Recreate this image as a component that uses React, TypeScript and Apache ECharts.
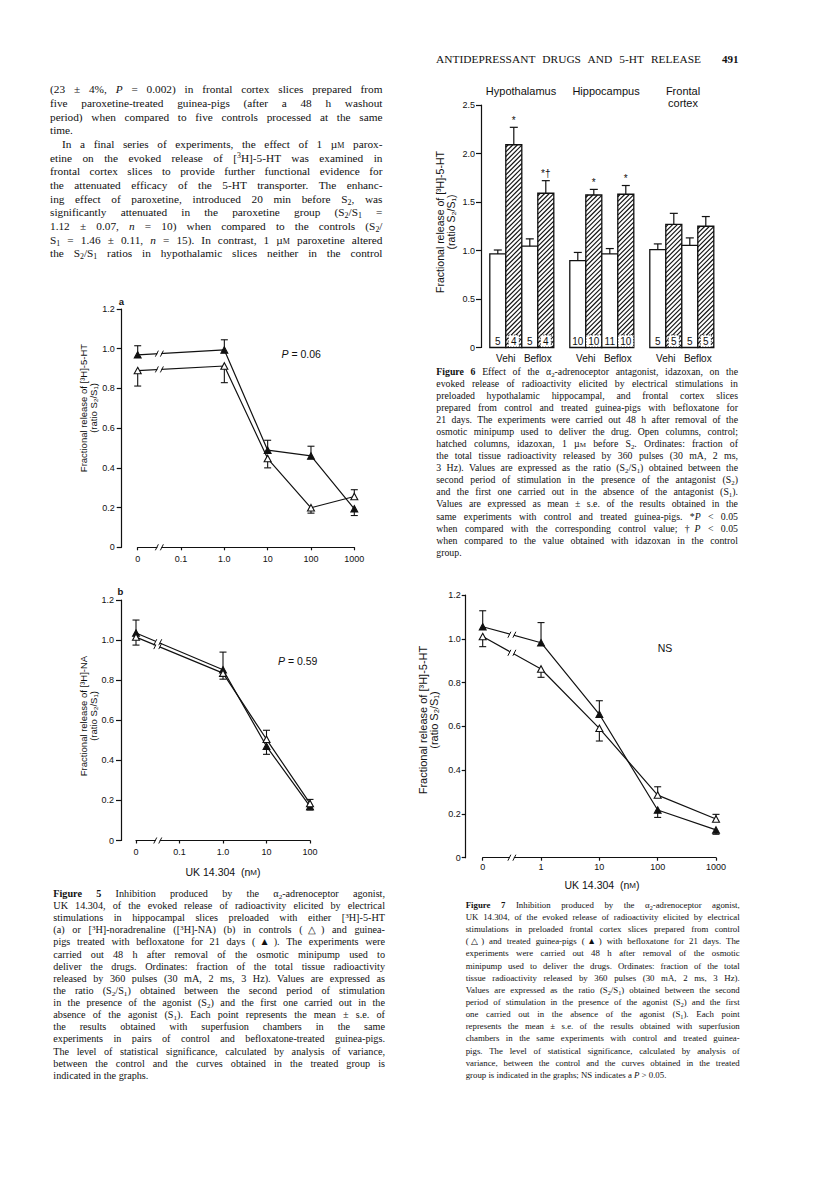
import React, { useEffect, useRef } from "react";
import * as echarts from "echarts";

// ---------------- Figure 6 (bars) ----------------
const fig6Regions = ["Hypothalamus", "Hippocampus", "Frontal\ncortex"];
const fig6Treatments = ["Vehi", "Beflox"];
const fig6Control = [0.965, 1.045, 0.895, 0.965, 1.008, 1.052];
const fig6ControlSE = [0.04, 0.075, 0.085, 0.055, 0.06, 0.078];
const fig6ControlN = [5, 5, 10, 11, 5, 5];
const fig6Idazoxan = [2.09, 1.59, 1.572, 1.58, 1.27, 1.25];
const fig6IdazoxanSE = [0.18, 0.13, 0.058, 0.09, 0.113, 0.1];
const fig6IdazoxanN = [4, 4, 10, 10, 5, 5];
const fig6Marks = ["*", "*†", "*", "*", "", ""];

// ---------------- Figure 5a ----------------
const fig5aConc = [0, 1, 10, 100, 1000];
const fig5aControl = [0.89, 0.913, 0.447, 0.199, 0.256];
const fig5aControlSE = [0.078, 0.084, 0.047, 0.027, 0.034];
const fig5aTreated = [0.969, 0.994, 0.489, 0.46, 0.194];
const fig5aTreatedSE = [0.046, 0.051, 0.05, 0.049, 0.034];

// ---------------- Figure 5b ----------------
const fig5bConc = [0, 1, 10, 100];
const fig5bControl = [1.015, 0.835, 0.505, 0.185];
const fig5bControlSE = [0.04, 0.03, 0.045, 0.02];
const fig5bTreated = [1.035, 0.852, 0.47, 0.17];
const fig5bTreatedSE = [0.065, 0.088, 0.04, 0.018];

// ---------------- Figure 7 ----------------
const fig7Conc = [0, 1, 10, 100, 1000];
const fig7Control = [1.01, 0.862, 0.591, 0.286, 0.177];
const fig7ControlSE = [0.046, 0.038, 0.058, 0.038, 0.021];
const fig7Treated = [1.055, 0.982, 0.655, 0.218, 0.127];
const fig7TreatedSE = [0.073, 0.092, 0.062, 0.034, 0.02];

// tick labels (index = decade exponent - first exponent)
const fig5XLabels = ["0", "0.1", "1.0", "10", "100", "1000"];
const fig7XLabels = ["0", "1", "10", "100", "1000"];

// ---------------- page texts ----------------
const headerText = "ANTIDEPRESSANT DRUGS AND 5-HT RELEASE";
const pageNumber = "491";

const bodyLines = [
  "(23 ± 4%, ~P~ = 0.002) in frontal cortex slices prepared from",
  "five paroxetine-treated guinea-pigs (after a 48 h washout",
  "period) when compared to five controls processed at the same",
  "time.",
  "\tIn a final series of experiments, the effect of 1 µ{m} parox-",
  "etine on the evoked release of [³H]-5-HT was examined in",
  "frontal cortex slices to provide further functional evidence for",
  "the attenuated efficacy of the 5-HT transporter. The enhanc-",
  "ing effect of paroxetine, introduced 20 min before S₂, was",
  "significantly attenuated in the paroxetine group (S₂/S₁ =",
  "1.12 ± 0.07, ~n~ = 10) when compared to the controls (S₂/",
  "S₁ = 1.46 ± 0.11, ~n~ = 15). In contrast, 1 µ{m} paroxetine altered",
  "the S₂/S₁ ratios in hypothalamic slices neither in the control",
];

const fig6Caption = [
  "**Figure 6**  Effect of the α₂-adrenoceptor antagonist, idazoxan, on the",
  "evoked release of radioactivity elicited by electrical stimulations in",
  "preloaded hypothalamic hippocampal, and frontal cortex slices",
  "prepared from control and treated guinea-pigs with befloxatone for",
  "21 days. The experiments were carried out 48 h after removal of the",
  "osmotic minipump used to deliver the drug. Open columns, control;",
  "hatched columns, idazoxan, 1 µ{m} before S₂. Ordinates: fraction of",
  "the total tissue radioactivity released by 360 pulses (30 mA, 2 ms,",
  "3 Hz). Values are expressed as the ratio (S₂/S₁) obtained between the",
  "second period of stimulation in the presence of the antagonist (S₂)",
  "and the first one carried out in the absence of the antagonist (S₁).",
  "Values are expressed as mean ± s.e. of the results obtained in the",
  "same experiments with control and treated guinea-pigs. *~P~ < 0.05",
  "when compared with the corresponding control value; †~P~ < 0.05",
  "when compared to the value obtained with idazoxan in the control",
  "group.",
];

const fig5Caption = [
  "**Figure 5**  Inhibition produced by the α₂-adrenoceptor agonist,",
  "UK 14.304, of the evoked release of radioactivity elicited by electrical",
  "stimulations in hippocampal slices preloaded with either [³H]-5-HT",
  "(a) or [³H]-noradrenaline ([³H]-NA) (b) in controls (△) and guinea-",
  "pigs treated with befloxatone for 21 days (▲). The experiments were",
  "carried out 48 h after removal of the osmotic minipump used to",
  "deliver the drugs. Ordinates: fraction of the total tissue radioactivity",
  "released by 360 pulses (30 mA, 2 ms, 3 Hz). Values are expressed as",
  "the ratio (S₂/S₁) obtained between the second period of stimulation",
  "in the presence of the agonist (S₂) and the first one carried out in the",
  "absence of the agonist (S₁). Each point represents the mean ± s.e. of",
  "the results obtained with superfusion chambers in the same",
  "experiments in pairs of control and befloxatone-treated guinea-pigs.",
  "The level of statistical significance, calculated by analysis of variance,",
  "between the control and the curves obtained in the treated group is",
  "indicated in the graphs.",
];

const fig7Caption = [
  "**Figure 7**  Inhibition produced by the α₂-adrenoceptor agonist,",
  "UK 14.304, of the evoked release of radioactivity elicited by electrical",
  "stimulations in preloaded frontal cortex slices prepared from control",
  "(△) and treated guinea-pigs (▲) with befloxatone for 21 days. The",
  "experiments were carried out 48 h after removal of the osmotic",
  "minipump used to deliver the drugs. Ordinates: fraction of the total",
  "tissue radioactivity released by 360 pulses (30 mA, 2 ms, 3 Hz).",
  "Values are expressed as the ratio (S₂/S₁) obtained between the second",
  "period of stimulation in the presence of the agonist (S₂) and the first",
  "one carried out in the absence of the agonist (S₁). Each point",
  "represents the mean ± s.e. of the results obtained with superfusion",
  "chambers in the same experiments with control and treated guinea-",
  "pigs. The level of statistical significance, calculated by analysis of",
  "variance, between the control and the curves obtained in the treated",
  "group is indicated in the graphs; NS indicates a ~P~ > 0.05.",
];

// ---------------- styling ----------------
const INK = "#111111";
const SANS = "'Liberation Sans', Arial, sans-serif";
const SERIF = "'Liberation Serif', 'Times New Roman', serif";
const BREAK_FACTOR = Math.sqrt(10); // axis break half a decade after the "0" position

function yAxisDef(gridIndex: number, max: number, interval: number, offset: number, margin: number, tick: number) {
  return {
    type: "value",
    gridIndex,
    min: 0,
    max,
    interval,
    offset,
    position: "left",
    axisLine: { show: true, onZero: false, lineStyle: { color: INK, width: 1.2 } },
    axisTick: { show: true, length: tick, lineStyle: { color: INK, width: 1.2 } },
    splitLine: { show: false },
    axisLabel: {
      color: INK,
      fontSize: 9,
      fontFamily: SANS,
      margin,
      formatter: (v: number) => (v === 0 ? "0" : v.toFixed(1)),
    },
  };
}

function xLogAxisDef(gridIndex: number, min: number, max: number, labels: string[], margin: number) {
  const e0 = Math.round(Math.log10(min));
  return {
    type: "log",
    logBase: 10,
    gridIndex,
    min,
    max,
    position: "bottom",
    axisLine: { show: true, onZero: false, lineStyle: { color: INK, width: 1.2 } },
    axisTick: { show: true, length: 3, lineStyle: { color: INK, width: 1.2 } },
    minorTick: { show: false },
    splitLine: { show: false },
    axisLabel: {
      color: INK,
      fontSize: 9,
      fontFamily: SANS,
      margin,
      formatter: (v: number) => labels[Math.round(Math.log10(v)) - e0] ?? "",
    },
  };
}

function lineFigureSeries(
  k: number,
  conc: number[],
  zero: number,
  ctrl: number[],
  ctrlSE: number[],
  trt: number[],
  trtSE: number[]
) {
  const xs = conc.map((c) => (c === 0 ? zero : c));
  const errData = [
    ...xs.map((x, i) => [x, ctrl[i], (ctrl[i] >= trt[i] ? 1 : -1) * ctrlSE[i]]),
    ...xs.map((x, i) => [x, trt[i], (trt[i] > ctrl[i] ? 1 : -1) * trtSE[i]]),
  ];
  const breakData = [
    [xs[0], 0, xs[1], 0],
    [xs[0], ctrl[0], xs[1], ctrl[1]],
    [xs[0], trt[0], xs[1], trt[1]],
  ];
  return [
    {
      type: "custom",
      xAxisIndex: k,
      yAxisIndex: k,
      z: 1,
      silent: true,
      clip: false,
      encode: { x: 0, y: 1 },
      data: errData,
      renderItem: (_p: any, api: any) => {
        const x = api.value(0);
        const v = api.value(1);
        const d = api.value(2);
        const p = api.coord([x, v]);
        const q = api.coord([x, v + d]);
        return {
          type: "group",
          children: [
            { type: "line", shape: { x1: p[0], y1: p[1], x2: q[0], y2: q[1] }, style: { stroke: INK, lineWidth: 1.1 } },
            { type: "line", shape: { x1: q[0] - 3.5, y1: q[1], x2: q[0] + 3.5, y2: q[1] }, style: { stroke: INK, lineWidth: 1.1 } },
          ],
        };
      },
    },
    {
      type: "line",
      xAxisIndex: k,
      yAxisIndex: k,
      z: 3,
      silent: true,
      clip: false,
      data: xs.map((x, i) => [x, trt[i]]),
      symbol: "triangle",
      symbolSize: [7, 6.5],
      showAllSymbol: true,
      lineStyle: { color: INK, width: 1.2 },
      itemStyle: { color: INK, borderColor: INK, borderWidth: 1 },
    },
    {
      type: "line",
      xAxisIndex: k,
      yAxisIndex: k,
      z: 3,
      silent: true,
      clip: false,
      data: xs.map((x, i) => [x, ctrl[i]]),
      symbol: "triangle",
      symbolSize: [7, 6.5],
      showAllSymbol: true,
      lineStyle: { color: INK, width: 1.2 },
      itemStyle: { color: "#ffffff", borderColor: INK, borderWidth: 1.1 },
    },
    {
      type: "custom",
      xAxisIndex: k,
      yAxisIndex: k,
      z: 6,
      silent: true,
      clip: false,
      encode: { x: [0, 2], y: [1, 3] },
      data: breakData,
      renderItem: (_p: any, api: any) => {
        const a = api.coord([api.value(0), api.value(1)]);
        const b = api.coord([api.value(2), api.value(3)]);
        const bx = api.coord([api.value(0) * BREAK_FACTOR, api.value(1)])[0];
        const t = (bx - a[0]) / (b[0] - a[0]);
        const by = a[1] + t * (b[1] - a[1]);
        return {
          type: "group",
          children: [
            { type: "rect", shape: { x: bx - 2, y: by - 2.6, width: 4, height: 5.2 }, style: { fill: "#ffffff" } },
            { type: "line", shape: { x1: bx - 4, y1: by + 3, x2: bx - 1, y2: by - 3 }, style: { stroke: INK, lineWidth: 1 } },
            { type: "line", shape: { x1: bx + 1, y1: by + 3, x2: bx + 4, y2: by - 3 }, style: { stroke: INK, lineWidth: 1 } },
          ],
        };
      },
    },
  ];
}

function fig6Series() {
  const data: number[][] = [];
  for (let r = 0; r < fig6Regions.length; r++) {
    for (let t = 0; t < fig6Treatments.length; t++) {
      const i = r * 2 + t;
      const xc = 1.05 + 5 * r + 2 * t;
      data.push([xc, fig6Control[i], fig6ControlSE[i], 0, i]);
      data.push([xc + 1, fig6Idazoxan[i], fig6IdazoxanSE[i], 1, i]);
    }
  }
  return {
    type: "custom",
    xAxisIndex: 0,
    yAxisIndex: 0,
    silent: true,
    clip: false,
    encode: { x: 0, y: 1 },
    data,
    renderItem: (_p: any, api: any) => {
      const xc = api.value(0);
      const v = api.value(1);
      const se = api.value(2);
      const hatched = api.value(3) === 1;
      const idx = api.value(4);
      const w = api.size([1, 0])[0];
      const pt = api.coord([xc, v]);
      const cx = pt[0];
      const top = pt[1];
      const base = api.coord([xc, 0])[1];
      const errTop = api.coord([xc, v + se])[1];
      const x0 = cx - w / 2;
      const x1 = cx + w / 2;
      const children: any[] = [];
      children.push({ type: "rect", shape: { x: x0, y: top, width: w, height: base - top }, style: { fill: "#ffffff" } });
      if (hatched) {
        for (let c = x0 + top + 2.5; c < x1 + base; c += 4.6) {
          const pa = Math.max(x0, c - base);
          const pb = Math.min(x1, c - top);
          if (pb > pa)
            children.push({
              type: "line",
              shape: { x1: pa, y1: c - pa, x2: pb, y2: c - pb },
              style: { stroke: INK, lineWidth: 1.15 },
            });
        }
      }
      children.push({
        type: "rect",
        shape: { x: x0, y: top, width: w, height: base - top },
        style: { fill: "none", stroke: INK, lineWidth: 1.3 },
      });
      children.push({ type: "line", shape: { x1: cx, y1: top, x2: cx, y2: errTop }, style: { stroke: INK, lineWidth: 1.2 } });
      children.push({ type: "line", shape: { x1: cx - 4, y1: errTop, x2: cx + 4, y2: errTop }, style: { stroke: INK, lineWidth: 1.2 } });
      const n = String(hatched ? fig6IdazoxanN[idx] : fig6ControlN[idx]);
      if (hatched) {
        const bw = Math.max(11, n.length * 5.8 + 4);
        children.push({
          type: "rect",
          shape: { x: cx - bw / 2, y: base - 12.5, width: bw, height: 12 },
          style: { fill: "#ffffff", stroke: INK, lineWidth: 0.8, lineDash: [1.4, 1.4] },
        });
      }
      children.push({
        type: "text",
        style: {
          text: n,
          x: cx,
          y: base - 6.5,
          align: "center",
          verticalAlign: "middle",
          textAlign: "center",
          textVerticalAlign: "middle",
          fontSize: 10,
          fontFamily: SANS,
          fill: INK,
        },
      });
      if (hatched && fig6Marks[idx]) {
        children.push({
          type: "text",
          style: {
            text: fig6Marks[idx],
            x: cx,
            y: errTop - 7,
            align: "center",
            verticalAlign: "middle",
            textAlign: "center",
            textVerticalAlign: "middle",
            fontSize: 10,
            fontFamily: SANS,
            fill: INK,
          },
        });
      }
      if (!hatched) {
        children.push({
          type: "text",
          style: {
            text: fig6Treatments[idx % 2],
            x: x1,
            y: base + 11,
            align: "center",
            verticalAlign: "middle",
            textAlign: "center",
            textVerticalAlign: "middle",
            fontSize: 10,
            fontFamily: SANS,
            fill: INK,
          },
        });
      }
      return { type: "group", children };
    },
  };
}

function gText(x: number, y: number, text: string, size: number, extra: any = {}, rotate = false) {
  return {
    type: "text",
    x,
    y,
    rotation: rotate ? Math.PI / 2 : 0,
    silent: true,
    style: {
      text,
      fontSize: size,
      fontFamily: SANS,
      fill: INK,
      align: "center",
      verticalAlign: "middle",
      textAlign: "center",
      textVerticalAlign: "middle",
      ...extra,
    },
  };
}

const italicRich = { i: { fontStyle: "italic", fontSize: 10.5, fontFamily: SANS, fill: INK } };
const scRich = { sc: { fontSize: 8, fontFamily: SANS, fill: INK } };

function buildOption() {
  return {
    animation: false,
    backgroundColor: "transparent",
    textStyle: { fontFamily: SANS, color: INK },
    grid: [
      { left: 481, top: 105, width: 234, height: 242.5 },
      { left: 137.7, top: 309, width: 216.6, height: 238.3 },
      { left: 136, top: 600, width: 174, height: 240.5 },
      { left: 482.7, top: 595, width: 233.3, height: 262.7 },
    ].map((g) => ({ ...g, containLabel: false, outerBoundsMode: "none" })),
    xAxis: [
      { type: "value", gridIndex: 0, min: 0, max: 14.625, show: false },
      xLogAxisDef(1, 0.01, 1000, fig5XLabels, 7.5),
      xLogAxisDef(2, 0.01, 100, fig5XLabels, 7),
      xLogAxisDef(3, 0.1, 1000, fig7XLabels, 4.5),
    ],
    yAxis: [
      yAxisDef(0, 2.5, 0.5, 0, 6, 5),
      yAxisDef(1, 1.2, 0.2, 16, 7, 5),
      yAxisDef(2, 1.2, 0.2, 15, 7, 5),
      yAxisDef(3, 1.2, 0.2, 17, 5, 4),
    ],
    series: [
      fig6Series(),
      ...lineFigureSeries(1, fig5aConc, 0.01, fig5aControl, fig5aControlSE, fig5aTreated, fig5aTreatedSE),
      ...lineFigureSeries(2, fig5bConc, 0.01, fig5bControl, fig5bControlSE, fig5bTreated, fig5bTreatedSE),
      ...lineFigureSeries(3, fig7Conc, 0.1, fig7Control, fig7ControlSE, fig7Treated, fig7TreatedSE),
    ],
    graphic: [
      // Figure 6 region titles
      gText(521, 91, fig6Regions[0], 11),
      gText(606, 91, fig6Regions[1], 11),
      gText(683, 97, fig6Regions[2], 11, { lineHeight: 12 }),
      // Figure 6 y name
      gText(440, 222, "Fractional release of [³H]-5-HT", 10.5, {}, true),
      gText(451, 222, "(ratio S₂/S₁)", 10.5, {}, true),
      // Figure 5a
      gText(121.5, 301.5, "a", 9.5, { fontWeight: "bold" }),
      gText(83, 408, "Fractional release of [³H]-5-HT", 9.5, {}, true),
      gText(93, 408, "(ratio S₂/S₁)", 9.5, {}, true),
      gText(281.5, 354, "{i|P} = 0.06", 10.5, { align: "left", textAlign: "left", rich: italicRich }),
      // Figure 5b
      gText(120.5, 591, "b", 9.5, { fontWeight: "bold" }),
      gText(83, 716, "Fractional release of [³H]-NA", 9.5, {}, true),
      gText(93, 716, "(ratio S₂/S₁)", 9.5, {}, true),
      gText(278, 661, "{i|P} = 0.59", 10.5, { align: "left", textAlign: "left", rich: italicRich }),
      gText(223, 872, "UK 14.304  (n{sc|M})", 10.5, { rich: scRich }),
      // Figure 7
      gText(423, 720, "Fractional release of [³H]-5-HT", 11, {}, true),
      gText(433.5, 720, "(ratio S₂/S₁)", 11, {}, true),
      gText(665, 648, "NS", 10.5),
      gText(602, 885, "UK 14.304  (n{sc|M})", 10.5, { rich: scRich }),
    ],
  };
}

// ---------------- HTML text rendering ----------------
const subStyle: React.CSSProperties = { fontSize: "0.7em", verticalAlign: "-0.25em", lineHeight: 0 };
const supStyle: React.CSSProperties = { fontSize: "0.7em", verticalAlign: "0.45em", lineHeight: 0 };

function richText(s: string) {
  const parts = s.split(/(\*\*[^*]+\*\*|~[^~]+~|\{[^}]+\}|[\u2080-\u2089]|\u00B3)/);
  return parts.map((p, i) => {
    if (!p) return null;
    if (p.length > 4 && p.startsWith("**") && p.endsWith("**")) return <b key={i}>{p.slice(2, -2)}</b>;
    if (p.length > 2 && p.startsWith("~") && p.endsWith("~")) return <i key={i}>{p.slice(1, -1)}</i>;
    if (p.length > 2 && p.startsWith("{") && p.endsWith("}"))
      return (
        <span key={i} style={{ fontVariant: "small-caps" }}>
          {p.slice(1, -1)}
        </span>
      );
    if (/^[\u2080-\u2089]$/.test(p))
      return (
        <sub key={i} style={subStyle}>
          {String(p.charCodeAt(0) - 0x2080)}
        </sub>
      );
    if (p === "\u00B3")
      return (
        <sup key={i} style={supStyle}>
          3
        </sup>
      );
    return <React.Fragment key={i}>{p}</React.Fragment>;
  });
}

type BlockProps = {
  lines: string[];
  x: number;
  y0: number;
  step: number;
  width: number;
  size: number;
  ragged: number[];
};

function TextBlock({ lines, x, y0, step, width, size, ragged }: BlockProps) {
  return (
    <>
      {lines.map((ln, i) => {
        const indent = ln.startsWith("\t") ? 12 : 0;
        const text = ln.replace(/^\t/, "");
        const justify = !ragged.includes(i);
        return (
          <div
            key={i}
            style={{
              position: "absolute",
              left: x,
              top: y0 + i * step - step / 2,
              width,
              height: step,
              boxSizing: "border-box",
              paddingLeft: indent,
              lineHeight: step + "px",
              fontSize: size,
              fontFamily: SERIF,
              color: INK,
              whiteSpace: "nowrap",
              textAlign: justify ? "justify" : "left",
              textAlignLast: justify ? "justify" : "left",
            }}
          >
            {richText(text)}
          </div>
        );
      })}
    </>
  );
}

export default function App() {
  const ref = useRef<HTMLDivElement>(null);
  useEffect(() => {
    if (!ref.current) return;
    const chart = echarts.init(ref.current, undefined, { renderer: "svg", width: 816, height: 1182 });
    chart.setOption(buildOption() as any);
    return () => chart.dispose();
  }, []);

  return (
    <div
      style={{
        position: "absolute",
        left: 0,
        top: 0,
        width: 816,
        height: 1182,
        background: "#ffffff",
        overflow: "hidden",
      }}
    >
      <div ref={ref} style={{ position: "absolute", left: 0, top: 0, width: 816, height: 1182 }} />
      <TextBlock lines={[headerText]} x={436} y0={59} step={14} width={265} size={11.4} ragged={[]} />
      <div
        style={{
          position: "absolute",
          left: 722,
          top: 52,
          lineHeight: "14px",
          fontSize: 11,
          fontFamily: SERIF,
          fontWeight: "bold",
          color: INK,
        }}
      >
        {pageNumber}
      </div>
      <TextBlock lines={bodyLines} x={50} y0={90} step={13.67} width={332.5} size={11.3} ragged={[3]} />
      <TextBlock lines={fig6Caption} x={436.3} y0={371.7} step={12.07} width={301.7} size={9.8} ragged={[15]} />
      <TextBlock lines={fig5Caption} x={53.3} y0={894} step={12.13} width={331.7} size={10.2} ragged={[15]} />
      <TextBlock lines={fig7Caption} x={465.7} y0={905} step={12.14} width={274} size={8.8} ragged={[14]} />
    </div>
  );
}
